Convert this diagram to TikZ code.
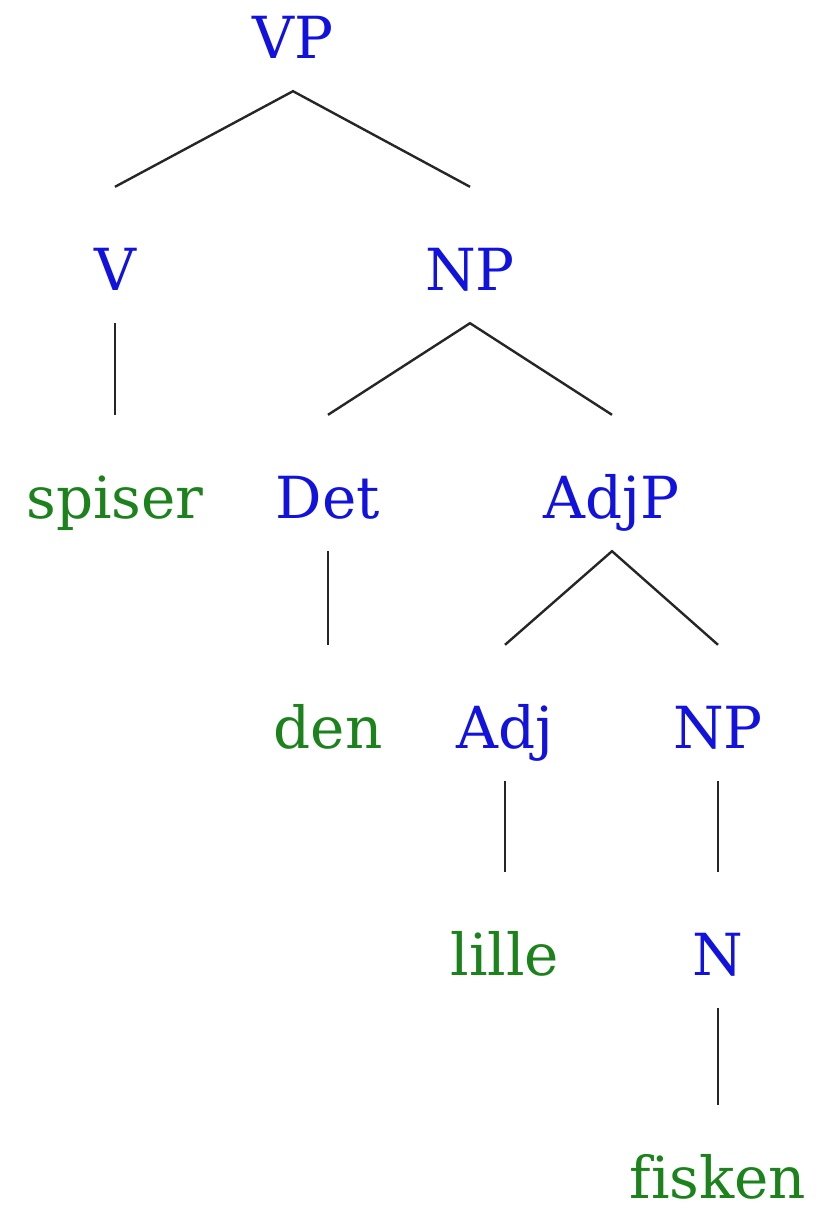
\documentclass[tikz,border=0pt]{standalone}
\usepackage{fontspec}
\setmainfont[Ligatures=NoCommon]{DejaVu Serif}
\usepackage{tikz}

\definecolor{catblue}{RGB}{18,18,222}
\definecolor{wordgreen}{RGB}{28,130,28}

\tikzset{
    lbl/.style={anchor=base, inner sep=0pt, text height=103pt, text depth=33pt,
        font=\fontsize{58}{70}\selectfont},
    cat/.style={lbl, text=catblue},
    word/.style={lbl, text=wordgreen},
    branch/.style={line width=2.4pt, black!85}
}

\begin{document}
\begin{tikzpicture}[x=1pt, y=-1pt]
    \useasboundingbox (0, 0) rectangle (825, 1210);

    \node[cat, text height=42pt] (vp) at (293, 58) {VP};
    \node[cat] (v) at (115, 290) {V};
    \node[cat] (np) at (470, 290) {NP};
    \node[word] (spiser) at (115, 518) {spiser};
    \node[cat] (det) at (328, 518) {Det};
    \node[cat] (adjp) at (612, 518) {AdjP};
    \node[word] (den) at (328, 748) {den};
    \node[cat] (adj) at (505, 748) {Adj};
    \node[cat] (npb) at (718, 748) {NP};
    \node[word] (lille) at (505, 975) {lille};
    \node[cat] (n) at (718, 975) {N};
    \node[word, text height=93pt, text depth=0pt] (fisken) at (718, 1198) {fisken};

    \draw[branch] (v.north) -- (vp.south) -- (np.north);
    \draw[branch] (v.south) -- (spiser.north);
    \draw[branch] (det.north) -- (np.south) -- (adjp.north);
    \draw[branch] (det.south) -- (den.north);
    \draw[branch] (adj.north) -- (adjp.south) -- (npb.north);
    \draw[branch] (adj.south) -- (lille.north);
    \draw[branch] (npb.south) -- (n.north);
    \draw[branch] (n.south) -- (fisken.north);
\end{tikzpicture}
\end{document}
